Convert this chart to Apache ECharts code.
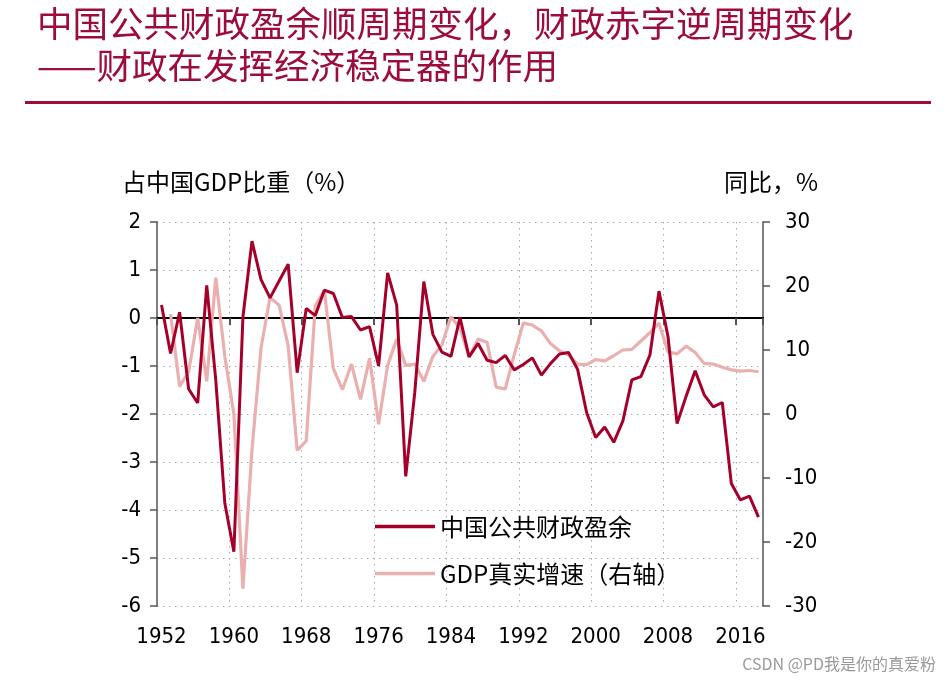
<!DOCTYPE html>
<html>
<head>
<meta charset="utf-8">
<script src="https://cdn.jsdelivr.net/npm/echarts@6/dist/echarts.min.js"></script>
<style>
html,body{margin:0;padding:0;background:#fff;}
#chart{width:952px;height:691px;}
</style>
</head>
<body>
<div id="chart"></div>
<script>
var years = ['1952','1953','1954','1955','1956','1957','1958','1959','1960','1961','1962','1963','1964','1965','1966','1967','1968','1969','1970','1971','1972','1973','1974','1975','1976','1977','1978','1979','1980','1981','1982','1983','1984','1985','1986','1987','1988','1989','1990','1991','1992','1993','1994','1995','1996','1997','1998','1999','2000','2001','2002','2003','2004','2005','2006','2007','2008','2009','2010','2011','2012','2013','2014','2015','2016','2017','2018'];

// 中国公共财政盈余（占GDP比重, %）
var surplus = [0.27,-0.74,0.12,-1.48,-1.77,0.68,-1.3,-3.86,-4.87,0.02,1.6,0.8,0.42,0.77,1.12,-1.14,0.2,0.05,0.58,0.51,0.01,0.03,-0.25,-0.18,-1.0,0.94,0.27,-3.3,-1.55,0.76,-0.34,-0.71,-0.8,0.01,-0.81,-0.53,-0.88,-0.93,-0.78,-1.08,-0.97,-0.83,-1.19,-0.95,-0.75,-0.72,-1.07,-1.97,-2.49,-2.27,-2.59,-2.15,-1.29,-1.22,-0.77,0.56,-0.39,-2.2,-1.63,-1.1,-1.6,-1.85,-1.76,-3.45,-3.79,-3.71,-4.15];

// GDP真实增速（同比, %）
var gdpGrowth = [null,15.6,4.3,6.6,15.0,5.1,21.3,9.0,0.0,-27.3,-5.6,10.3,18.2,17.0,10.7,-5.7,-4.2,16.9,19.3,7.1,3.8,7.8,2.3,8.7,-1.6,7.6,11.7,7.6,7.8,5.1,9.0,10.8,15.2,13.4,8.9,11.7,11.2,4.2,3.9,9.3,14.2,13.9,13.0,11.0,9.9,9.2,7.8,7.7,8.5,8.3,9.1,10.0,10.1,11.4,12.7,14.2,9.7,9.4,10.6,9.6,7.9,7.8,7.3,6.9,6.7,6.8,6.6];

var leftTicks = {min:-6, max:2, interval:1};
var rightTicks = {min:-30, max:30, interval:10};

var titleLine1 = '中国公共财政盈余顺周期变化，财政赤字逆周期变化';
var titleLine2 = '——财政在发挥经济稳定器的作用';
var leftName = '占中国GDP比重（%）';
var rightName = '同比，%';
var seriesNames = ['中国公共财政盈余','GDP真实增速（右轴）'];
var watermark = 'CSDN @PD我是你的真爱粉';

var RED = '#A5002A';
var PINK = '#EAAFAF';
var TITLE = '#9C0C3C';
var CJK = "'Noto Sans CJK SC', 'Noto Sans', sans-serif";
var NUM = "'DejaVu Sans Condensed', 'DejaVu Sans', sans-serif";
var gridDash = {color:'#a6a6a6', width:1, type:[1.5,4.5]};

var chart = echarts.init(document.getElementById('chart'), null, {renderer:'canvas'});
chart.setOption({
  animation:false,
  backgroundColor:'#fff',
  grid:{left:157, right:189, top:222, bottom:85, containLabel:false},
  graphic:[
    {type:'text', left:37, top:6, style:{text:titleLine1, fill:TITLE, font:'35.5px '+CJK}},
    {type:'text', left:37, top:48, style:{text:titleLine2, fill:TITLE, font:'35.5px '+CJK}},
    {type:'rect', shape:{x:25, y:101, width:906, height:3}, style:{fill:TITLE}},
    {type:'text', left:122, top:170, style:{text:leftName, fill:'#000', font:'24px '+CJK}},
    {type:'text', right:134, top:170, style:{text:rightName, fill:'#000', font:'24px '+CJK}},
    {type:'text', right:16, top:656, style:{text:watermark, fill:'#9a9a9a', font:'16px '+CJK}}
  ],
  legend:{
    orient:'vertical', left:370, top:509,
    data:seriesNames,
    icon:'rect', itemWidth:60, itemHeight:3.5, itemGap:22,
    textStyle:{fontSize:24, fontFamily:CJK, color:'#000', lineHeight:25}
  },
  xAxis:[
    {
      type:'category', data:years, position:'bottom', boundaryGap:true,
      axisLine:{show:false, onZero:false}, axisTick:{show:false},
      axisLabel:{interval:7, fontSize:22, fontFamily:NUM, color:'#000', margin:20},
      splitLine:{show:true, interval:7, lineStyle:gridDash}
    },
    {
      type:'category', data:years, position:'bottom', boundaryGap:true,
      axisLine:{show:true, onZero:true, lineStyle:{color:'#000', width:2}},
      axisTick:{show:true, interval:7, length:7, lineStyle:{color:'#555', width:2}},
      axisLabel:{show:false}, splitLine:{show:false}
    }
  ],
  yAxis:[
    {
      type:'value', position:'left', min:leftTicks.min, max:leftTicks.max, interval:leftTicks.interval,
      axisLine:{show:true, onZero:false, lineStyle:{color:'#7f7f7f', width:2}},
      axisTick:{show:true, length:7, lineStyle:{color:'#555', width:1.5}},
      axisLabel:{fontSize:22, fontFamily:NUM, color:'#000', margin:16},
      splitLine:{show:true, lineStyle:gridDash}
    },
    {
      type:'value', position:'right', min:rightTicks.min, max:rightTicks.max, interval:rightTicks.interval,
      axisLine:{show:true, onZero:false, lineStyle:{color:'#7f7f7f', width:2}},
      axisTick:{show:true, length:7, lineStyle:{color:'#555', width:1.5}},
      axisLabel:{fontSize:22, fontFamily:NUM, color:'#000', margin:22},
      splitLine:{show:false}
    }
  ],
  series:[
    {
      name:seriesNames[1], type:'line', xAxisIndex:0, yAxisIndex:1, data:gdpGrowth,
      showSymbol:false, symbol:'none', z:2, connectNulls:false,
      lineStyle:{color:PINK, width:3.2}, itemStyle:{color:PINK}
    },
    {
      name:seriesNames[0], type:'line', xAxisIndex:0, yAxisIndex:0, data:surplus,
      showSymbol:false, symbol:'none', z:3,
      lineStyle:{color:RED, width:3}, itemStyle:{color:RED}
    }
  ]
});
</script>
</body>
</html>
